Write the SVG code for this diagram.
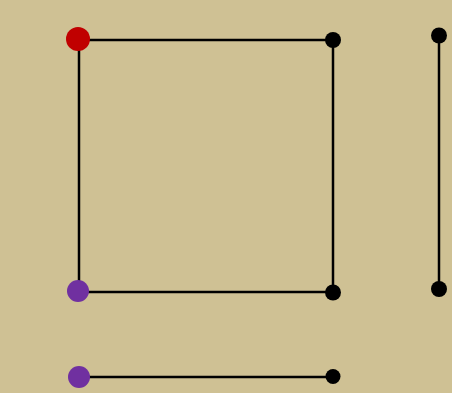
<svg xmlns="http://www.w3.org/2000/svg" width="452" height="393" viewBox="0 0 452 393">
<style>
.e{stroke:#000;stroke-width:2.5;fill:none}
.k{fill:#000}
.r{fill:#c00000}
.p{fill:#7030a0}
</style>
<rect width="452" height="393" fill="#cfc194"/>
<g id="connectors">
<line class="e" x1="79" y1="40" x2="333" y2="40"/>
<line class="e" x1="79" y1="40" x2="79" y2="292"/>
<line class="e" x1="79" y1="292" x2="333" y2="292"/>
<line class="e" x1="333" y1="40" x2="333" y2="292"/>
<line class="e" x1="439" y1="36" x2="439" y2="289"/>
<line class="e" x1="79" y1="377" x2="333" y2="377"/>
</g>
<g id="n1"><circle class="r" cx="78" cy="39" r="12"/></g>
<g id="n2"><circle class="k" cx="333" cy="40" r="8"/></g>
<g id="n3"><circle class="p" cx="78" cy="291" r="11"/></g>
<g id="n4"><circle class="k" cx="333" cy="292.5" r="8"/></g>
<g id="n5"><circle class="k" cx="439" cy="35.5" r="8"/></g>
<g id="n6"><circle class="k" cx="439" cy="289" r="8"/></g>
<g id="n7"><circle class="p" cx="79" cy="377" r="11"/></g>
<g id="n8"><circle class="k" cx="333" cy="376.5" r="7.5"/></g>
</svg>
